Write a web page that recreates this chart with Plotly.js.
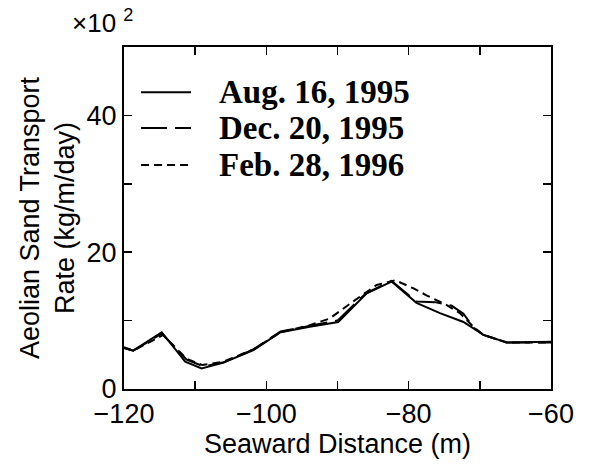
<!DOCTYPE html>
<html>
<head>
<meta charset="utf-8">
<script src="https://cdn.plot.ly/plotly-3.0.1.min.js"></script>
<style>html,body{margin:0;padding:0;background:#fff;}#chart{width:592px;height:466px;}</style>
</head>
<body>
<div id="chart"></div>
<script>
// Seaward distance (m) and transport rate (x10^2 kg/m/day)
const augX = [-120, -118.7, -114.7, -111.4, -109.1, -106, -101.8, -98, -93.9, -89.9, -85.9, -82.4, -78.9, -75.6, -72.3, -70.9, -69.5, -66.2, -60];
const augY = [6.1, 5.6, 8.3, 4.0, 3.0, 3.85, 5.7, 8.3, 9.1, 9.8, 14.0, 15.7, 12.6, 11.1, 9.8, 8.9, 7.9, 6.8, 6.9];

const decX = [-120, -118.7, -114.7, -111.2, -108.8, -106, -101.8, -98, -94, -90, -86, -82.4, -78.9, -76.3, -74.0, -72.3, -70.9, -69.5, -66.2, -60];
const decY = [6.0, 5.6, 8.1, 4.3, 3.3, 3.9, 5.8, 8.4, 9.2, 10.0, 14.0, 15.8, 12.8, 12.7, 12.2, 11.0, 9.0, 7.9, 6.8, 6.8];

const febX = [-120, -118.7, -114.5, -111.2, -109, -106, -101.8, -98, -94, -91.1, -87.8, -84.5, -81.9, -79.3, -77.5, -74.7, -72.8, -70.9, -69.5, -66.2, -60];
const febY = [6.0, 5.6, 7.9, 4.4, 3.5, 4.0, 5.8, 8.3, 9.3, 10.3, 12.8, 15.2, 15.9, 14.7, 13.7, 12.3, 11.1, 9.1, 7.9, 6.8, 6.8];

const seriesNames = ["Aug. 16, 1995", "Dec. 20, 1995", "Feb. 28, 1996"];
const seriesDash = ["solid", "26px,8px", "8px,5px"];
const xTickVals = [-120, -100, -80, -60];
const xTickText = ["\u2212120", "\u2212100", "\u221280", "\u221260"];
const xMinorVals = [-110, -90, -70];
const yTickVals = [0, 20, 40];
const yTickText = ["0", "20", "40"];
const yMinorVals = [10, 30];

const xs = [augX, decX, febX];
const ys = [augY, decY, febY];
const traces = xs.map((x, i) => ({
  x: x, y: ys[i], name: seriesNames[i], mode: "lines", showlegend: false,
  line: {color: "#000", width: 2, dash: seriesDash[i]}
}));

const axisFont = {family: "Liberation Sans, Arial, sans-serif", size: 27, color: "#000"};

// hand-placed legend (paper coordinates)
const legendRowsY = [0.868, 0.763, 0.655];
const shapes = [];
const annotations = [];
legendRowsY.forEach((yy, i) => {
  shapes.push({type: "line", xref: "paper", yref: "paper", x0: 0.040, x1: 0.157, y0: yy, y1: yy,
               line: {color: "#000", width: 2, dash: seriesDash[i]}});
  annotations.push({xref: "paper", yref: "paper", x: 0.218, y: yy, xanchor: "left", yanchor: "middle",
                    text: "<b>" + seriesNames[i] + "</b>", showarrow: false,
                    font: {family: "Liberation Serif, Times New Roman, serif", size: 33, color: "#000"}});
});
annotations.push({xref: "paper", yref: "paper", x: -0.05, y: 1.02, xanchor: "center", yanchor: "bottom",
  text: "\u00d710 <sup>2</sup>", showarrow: false,
  font: {family: "Liberation Sans, Arial, sans-serif", size: 26, color: "#000"}});

const tickStyle = {ticks: "inside", ticklen: 8, tickwidth: 1.5, tickcolor: "#000"};

const layout = {
  width: 592, height: 466,
  margin: {l: 124, r: 41, t: 47, b: 77},
  paper_bgcolor: "#fff", plot_bgcolor: "#fff",
  showlegend: false,
  xaxis: Object.assign({
    range: [-120, -60], tickmode: "array", tickvals: xTickVals, ticktext: xTickText,
    minor: Object.assign({tickvals: xMinorVals}, tickStyle),
    showline: true, linecolor: "#000", linewidth: 2, mirror: "allticks",
    showgrid: false, zeroline: false,
    tickfont: axisFont,
    title: {text: "Seaward Distance (m)", font: axisFont, standoff: 6}
  }, tickStyle),
  yaxis: Object.assign({
    range: [0, 50], tickmode: "array", tickvals: yTickVals, ticktext: yTickText,
    minor: Object.assign({tickvals: yMinorVals}, tickStyle),
    showline: true, linecolor: "#000", linewidth: 2, mirror: "allticks",
    showgrid: false, zeroline: false,
    tickfont: axisFont,
    title: {text: "Aeolian Sand Transport<br>Rate (kg/m/day)", font: axisFont, standoff: 4}
  }, tickStyle),
  shapes: shapes,
  annotations: annotations
};

Plotly.newPlot("chart", traces, layout, {displayModeBar: false, staticPlot: true});
</script>
</body>
</html>
